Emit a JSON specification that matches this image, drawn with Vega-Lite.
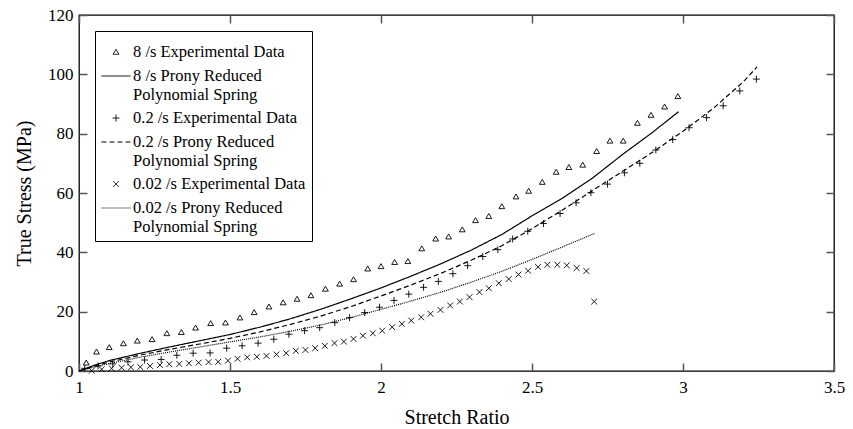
{
  "$schema": "https://vega.github.io/schema/vega-lite/v6.json",
  "width": 755,
  "height": 356,
  "autosize": "none",
  "padding": {"left": 79, "top": 15, "right": 19, "bottom": 58},
  "config": {
    "view": {"stroke": "black", "strokeWidth": 1.3},
    "font": "Liberation Serif",
    "legend": {"labelFont": "Liberation Serif", "labelFontSize": 16.5, "labelColor": "black"},
    "axis": {
      "domain": false, "ticks": true, "tickColor": "#555", "tickWidth": 1.5, "tickSize": 8, "offset": -8,
      "grid": false, "labelFont": "Liberation Serif", "labelFontSize": 17, "labelColor": "black",
      "titleFont": "Liberation Serif", "titleFontSize": 20, "titleFontWeight": "normal", "titleColor": "black"
    }
  },
  "datasets": {
    "exp": [
      {"s": "8 /s Experimental Data", "x": 1.024, "y": 2.8},
      {"s": "8 /s Experimental Data", "x": 1.058, "y": 6.5},
      {"s": "8 /s Experimental Data", "x": 1.10, "y": 8.0},
      {"s": "8 /s Experimental Data", "x": 1.147, "y": 9.3},
      {"s": "8 /s Experimental Data", "x": 1.193, "y": 10.2},
      {"s": "8 /s Experimental Data", "x": 1.242, "y": 10.7},
      {"s": "8 /s Experimental Data", "x": 1.291, "y": 12.7},
      {"s": "8 /s Experimental Data", "x": 1.339, "y": 13.1},
      {"s": "8 /s Experimental Data", "x": 1.386, "y": 14.6},
      {"s": "8 /s Experimental Data", "x": 1.436, "y": 16.1},
      {"s": "8 /s Experimental Data", "x": 1.485, "y": 16.3},
      {"s": "8 /s Experimental Data", "x": 1.533, "y": 18.0},
      {"s": "8 /s Experimental Data", "x": 1.58, "y": 19.8},
      {"s": "8 /s Experimental Data", "x": 1.629, "y": 21.7},
      {"s": "8 /s Experimental Data", "x": 1.676, "y": 23.1},
      {"s": "8 /s Experimental Data", "x": 1.722, "y": 24.3},
      {"s": "8 /s Experimental Data", "x": 1.768, "y": 25.5},
      {"s": "8 /s Experimental Data", "x": 1.816, "y": 27.7},
      {"s": "8 /s Experimental Data", "x": 1.863, "y": 29.4},
      {"s": "8 /s Experimental Data", "x": 1.909, "y": 30.9},
      {"s": "8 /s Experimental Data", "x": 1.956, "y": 34.5},
      {"s": "8 /s Experimental Data", "x": 2.0, "y": 35.3},
      {"s": "8 /s Experimental Data", "x": 2.045, "y": 36.7},
      {"s": "8 /s Experimental Data", "x": 2.089, "y": 37.0},
      {"s": "8 /s Experimental Data", "x": 2.135, "y": 41.3},
      {"s": "8 /s Experimental Data", "x": 2.181, "y": 44.6},
      {"s": "8 /s Experimental Data", "x": 2.224, "y": 45.3},
      {"s": "8 /s Experimental Data", "x": 2.269, "y": 47.7},
      {"s": "8 /s Experimental Data", "x": 2.313, "y": 50.8},
      {"s": "8 /s Experimental Data", "x": 2.357, "y": 52.2},
      {"s": "8 /s Experimental Data", "x": 2.40, "y": 55.5},
      {"s": "8 /s Experimental Data", "x": 2.447, "y": 58.8},
      {"s": "8 /s Experimental Data", "x": 2.489, "y": 60.7},
      {"s": "8 /s Experimental Data", "x": 2.534, "y": 63.7},
      {"s": "8 /s Experimental Data", "x": 2.58, "y": 67.1},
      {"s": "8 /s Experimental Data", "x": 2.622, "y": 68.7},
      {"s": "8 /s Experimental Data", "x": 2.668, "y": 69.5},
      {"s": "8 /s Experimental Data", "x": 2.714, "y": 74.1},
      {"s": "8 /s Experimental Data", "x": 2.758, "y": 77.6},
      {"s": "8 /s Experimental Data", "x": 2.802, "y": 77.6},
      {"s": "8 /s Experimental Data", "x": 2.849, "y": 83.6},
      {"s": "8 /s Experimental Data", "x": 2.894, "y": 86.3},
      {"s": "8 /s Experimental Data", "x": 2.939, "y": 89.1},
      {"s": "8 /s Experimental Data", "x": 2.983, "y": 92.6},
      {"s": "0.2 /s Experimental Data", "x": 1.019, "y": 0.9},
      {"s": "0.2 /s Experimental Data", "x": 1.063, "y": 1.7},
      {"s": "0.2 /s Experimental Data", "x": 1.112, "y": 2.4},
      {"s": "0.2 /s Experimental Data", "x": 1.162, "y": 3.1},
      {"s": "0.2 /s Experimental Data", "x": 1.217, "y": 3.7},
      {"s": "0.2 /s Experimental Data", "x": 1.272, "y": 3.9},
      {"s": "0.2 /s Experimental Data", "x": 1.324, "y": 5.3},
      {"s": "0.2 /s Experimental Data", "x": 1.378, "y": 6.0},
      {"s": "0.2 /s Experimental Data", "x": 1.434, "y": 6.1},
      {"s": "0.2 /s Experimental Data", "x": 1.489, "y": 7.7},
      {"s": "0.2 /s Experimental Data", "x": 1.54, "y": 8.5},
      {"s": "0.2 /s Experimental Data", "x": 1.593, "y": 9.4},
      {"s": "0.2 /s Experimental Data", "x": 1.645, "y": 10.7},
      {"s": "0.2 /s Experimental Data", "x": 1.695, "y": 12.4},
      {"s": "0.2 /s Experimental Data", "x": 1.747, "y": 13.6},
      {"s": "0.2 /s Experimental Data", "x": 1.797, "y": 14.6},
      {"s": "0.2 /s Experimental Data", "x": 1.847, "y": 16.3},
      {"s": "0.2 /s Experimental Data", "x": 1.896, "y": 18.0},
      {"s": "0.2 /s Experimental Data", "x": 1.946, "y": 19.7},
      {"s": "0.2 /s Experimental Data", "x": 1.995, "y": 21.5},
      {"s": "0.2 /s Experimental Data", "x": 2.043, "y": 23.8},
      {"s": "0.2 /s Experimental Data", "x": 2.092, "y": 25.9},
      {"s": "0.2 /s Experimental Data", "x": 2.141, "y": 28.2},
      {"s": "0.2 /s Experimental Data", "x": 2.19, "y": 30.2},
      {"s": "0.2 /s Experimental Data", "x": 2.238, "y": 32.8},
      {"s": "0.2 /s Experimental Data", "x": 2.287, "y": 35.5},
      {"s": "0.2 /s Experimental Data", "x": 2.337, "y": 38.6},
      {"s": "0.2 /s Experimental Data", "x": 2.387, "y": 40.9},
      {"s": "0.2 /s Experimental Data", "x": 2.436, "y": 44.5},
      {"s": "0.2 /s Experimental Data", "x": 2.486, "y": 47.1},
      {"s": "0.2 /s Experimental Data", "x": 2.538, "y": 49.7},
      {"s": "0.2 /s Experimental Data", "x": 2.593, "y": 53.1},
      {"s": "0.2 /s Experimental Data", "x": 2.646, "y": 56.7},
      {"s": "0.2 /s Experimental Data", "x": 2.695, "y": 60.1},
      {"s": "0.2 /s Experimental Data", "x": 2.75, "y": 63.0},
      {"s": "0.2 /s Experimental Data", "x": 2.806, "y": 66.8},
      {"s": "0.2 /s Experimental Data", "x": 2.857, "y": 70.0},
      {"s": "0.2 /s Experimental Data", "x": 2.91, "y": 74.5},
      {"s": "0.2 /s Experimental Data", "x": 2.966, "y": 78.0},
      {"s": "0.2 /s Experimental Data", "x": 3.02, "y": 82.0},
      {"s": "0.2 /s Experimental Data", "x": 3.078, "y": 85.4},
      {"s": "0.2 /s Experimental Data", "x": 3.133, "y": 89.4},
      {"s": "0.2 /s Experimental Data", "x": 3.188, "y": 94.4},
      {"s": "0.2 /s Experimental Data", "x": 3.243, "y": 98.4},
      {"s": "0.02 /s Experimental Data", "x": 1.042, "y": 0.1},
      {"s": "0.02 /s Experimental Data", "x": 1.075, "y": 0.6},
      {"s": "0.02 /s Experimental Data", "x": 1.108, "y": 0.9},
      {"s": "0.02 /s Experimental Data", "x": 1.141, "y": 1.1},
      {"s": "0.02 /s Experimental Data", "x": 1.172, "y": 1.25},
      {"s": "0.02 /s Experimental Data", "x": 1.203, "y": 1.35},
      {"s": "0.02 /s Experimental Data", "x": 1.235, "y": 1.7},
      {"s": "0.02 /s Experimental Data", "x": 1.268, "y": 2.0},
      {"s": "0.02 /s Experimental Data", "x": 1.299, "y": 2.3},
      {"s": "0.02 /s Experimental Data", "x": 1.332, "y": 2.4},
      {"s": "0.02 /s Experimental Data", "x": 1.364, "y": 2.6},
      {"s": "0.02 /s Experimental Data", "x": 1.396, "y": 2.8},
      {"s": "0.02 /s Experimental Data", "x": 1.429, "y": 3.0},
      {"s": "0.02 /s Experimental Data", "x": 1.461, "y": 3.1},
      {"s": "0.02 /s Experimental Data", "x": 1.493, "y": 3.5},
      {"s": "0.02 /s Experimental Data", "x": 1.525, "y": 4.1},
      {"s": "0.02 /s Experimental Data", "x": 1.557, "y": 4.6},
      {"s": "0.02 /s Experimental Data", "x": 1.589, "y": 4.8},
      {"s": "0.02 /s Experimental Data", "x": 1.621, "y": 5.1},
      {"s": "0.02 /s Experimental Data", "x": 1.654, "y": 5.6},
      {"s": "0.02 /s Experimental Data", "x": 1.686, "y": 6.0},
      {"s": "0.02 /s Experimental Data", "x": 1.718, "y": 6.8},
      {"s": "0.02 /s Experimental Data", "x": 1.75, "y": 7.1},
      {"s": "0.02 /s Experimental Data", "x": 1.782, "y": 7.7},
      {"s": "0.02 /s Experimental Data", "x": 1.814, "y": 8.5},
      {"s": "0.02 /s Experimental Data", "x": 1.846, "y": 9.4},
      {"s": "0.02 /s Experimental Data", "x": 1.877, "y": 9.9},
      {"s": "0.02 /s Experimental Data", "x": 1.909, "y": 10.8},
      {"s": "0.02 /s Experimental Data", "x": 1.94, "y": 11.9},
      {"s": "0.02 /s Experimental Data", "x": 1.973, "y": 12.7},
      {"s": "0.02 /s Experimental Data", "x": 2.004, "y": 13.6},
      {"s": "0.02 /s Experimental Data", "x": 2.037, "y": 14.8},
      {"s": "0.02 /s Experimental Data", "x": 2.069, "y": 15.9},
      {"s": "0.02 /s Experimental Data", "x": 2.10, "y": 17.0},
      {"s": "0.02 /s Experimental Data", "x": 2.133, "y": 18.1},
      {"s": "0.02 /s Experimental Data", "x": 2.164, "y": 19.3},
      {"s": "0.02 /s Experimental Data", "x": 2.197, "y": 20.6},
      {"s": "0.02 /s Experimental Data", "x": 2.229, "y": 22.1},
      {"s": "0.02 /s Experimental Data", "x": 2.261, "y": 23.4},
      {"s": "0.02 /s Experimental Data", "x": 2.293, "y": 24.9},
      {"s": "0.02 /s Experimental Data", "x": 2.326, "y": 26.6},
      {"s": "0.02 /s Experimental Data", "x": 2.357, "y": 27.9},
      {"s": "0.02 /s Experimental Data", "x": 2.39, "y": 29.6},
      {"s": "0.02 /s Experimental Data", "x": 2.423, "y": 31.0},
      {"s": "0.02 /s Experimental Data", "x": 2.455, "y": 32.5},
      {"s": "0.02 /s Experimental Data", "x": 2.487, "y": 33.8},
      {"s": "0.02 /s Experimental Data", "x": 2.52, "y": 35.1},
      {"s": "0.02 /s Experimental Data", "x": 2.551, "y": 35.8},
      {"s": "0.02 /s Experimental Data", "x": 2.584, "y": 35.8},
      {"s": "0.02 /s Experimental Data", "x": 2.615, "y": 35.6},
      {"s": "0.02 /s Experimental Data", "x": 2.648, "y": 34.7},
      {"s": "0.02 /s Experimental Data", "x": 2.68, "y": 33.7},
      {"s": "0.02 /s Experimental Data", "x": 2.706, "y": 23.4}
    ],
    "models": [
      {"s": "8 /s Prony Reduced|Polynomial Spring", "x": 1.0, "y": 0},
      {"s": "8 /s Prony Reduced|Polynomial Spring", "x": 1.05, "y": 1.9},
      {"s": "8 /s Prony Reduced|Polynomial Spring", "x": 1.1, "y": 3.5},
      {"s": "8 /s Prony Reduced|Polynomial Spring", "x": 1.2, "y": 5.9},
      {"s": "8 /s Prony Reduced|Polynomial Spring", "x": 1.3, "y": 8.1},
      {"s": "8 /s Prony Reduced|Polynomial Spring", "x": 1.4, "y": 10.2},
      {"s": "8 /s Prony Reduced|Polynomial Spring", "x": 1.5, "y": 12.3},
      {"s": "8 /s Prony Reduced|Polynomial Spring", "x": 1.6, "y": 14.8},
      {"s": "8 /s Prony Reduced|Polynomial Spring", "x": 1.7, "y": 17.6},
      {"s": "8 /s Prony Reduced|Polynomial Spring", "x": 1.8, "y": 20.8},
      {"s": "8 /s Prony Reduced|Polynomial Spring", "x": 1.9, "y": 24.3},
      {"s": "8 /s Prony Reduced|Polynomial Spring", "x": 2.0, "y": 28.0},
      {"s": "8 /s Prony Reduced|Polynomial Spring", "x": 2.1, "y": 32.0},
      {"s": "8 /s Prony Reduced|Polynomial Spring", "x": 2.2, "y": 36.2},
      {"s": "8 /s Prony Reduced|Polynomial Spring", "x": 2.3, "y": 40.8},
      {"s": "8 /s Prony Reduced|Polynomial Spring", "x": 2.4, "y": 46.0},
      {"s": "8 /s Prony Reduced|Polynomial Spring", "x": 2.5, "y": 52.3},
      {"s": "8 /s Prony Reduced|Polynomial Spring", "x": 2.6, "y": 58.2},
      {"s": "8 /s Prony Reduced|Polynomial Spring", "x": 2.7, "y": 65.0},
      {"s": "8 /s Prony Reduced|Polynomial Spring", "x": 2.8, "y": 73.0},
      {"s": "8 /s Prony Reduced|Polynomial Spring", "x": 2.9, "y": 80.5},
      {"s": "8 /s Prony Reduced|Polynomial Spring", "x": 2.985, "y": 87.4},
      {"s": "0.2 /s Prony Reduced|Polynomial Spring", "x": 1.0, "y": 0},
      {"s": "0.2 /s Prony Reduced|Polynomial Spring", "x": 1.05, "y": 1.6},
      {"s": "0.2 /s Prony Reduced|Polynomial Spring", "x": 1.1, "y": 3.0},
      {"s": "0.2 /s Prony Reduced|Polynomial Spring", "x": 1.2, "y": 5.3},
      {"s": "0.2 /s Prony Reduced|Polynomial Spring", "x": 1.3, "y": 7.3},
      {"s": "0.2 /s Prony Reduced|Polynomial Spring", "x": 1.4, "y": 9.1},
      {"s": "0.2 /s Prony Reduced|Polynomial Spring", "x": 1.5, "y": 11.0},
      {"s": "0.2 /s Prony Reduced|Polynomial Spring", "x": 1.6, "y": 13.2},
      {"s": "0.2 /s Prony Reduced|Polynomial Spring", "x": 1.7, "y": 15.7},
      {"s": "0.2 /s Prony Reduced|Polynomial Spring", "x": 1.8, "y": 18.5},
      {"s": "0.2 /s Prony Reduced|Polynomial Spring", "x": 1.9, "y": 21.7},
      {"s": "0.2 /s Prony Reduced|Polynomial Spring", "x": 2.0, "y": 25.3},
      {"s": "0.2 /s Prony Reduced|Polynomial Spring", "x": 2.1, "y": 29.0},
      {"s": "0.2 /s Prony Reduced|Polynomial Spring", "x": 2.2, "y": 33.0},
      {"s": "0.2 /s Prony Reduced|Polynomial Spring", "x": 2.3, "y": 37.4},
      {"s": "0.2 /s Prony Reduced|Polynomial Spring", "x": 2.4, "y": 42.2},
      {"s": "0.2 /s Prony Reduced|Polynomial Spring", "x": 2.5, "y": 48.0},
      {"s": "0.2 /s Prony Reduced|Polynomial Spring", "x": 2.6, "y": 54.2},
      {"s": "0.2 /s Prony Reduced|Polynomial Spring", "x": 2.7, "y": 60.8},
      {"s": "0.2 /s Prony Reduced|Polynomial Spring", "x": 2.8, "y": 67.3},
      {"s": "0.2 /s Prony Reduced|Polynomial Spring", "x": 2.9, "y": 73.8},
      {"s": "0.2 /s Prony Reduced|Polynomial Spring", "x": 3.0, "y": 80.8},
      {"s": "0.2 /s Prony Reduced|Polynomial Spring", "x": 3.1, "y": 88.5},
      {"s": "0.2 /s Prony Reduced|Polynomial Spring", "x": 3.2, "y": 97.5},
      {"s": "0.2 /s Prony Reduced|Polynomial Spring", "x": 3.245, "y": 102.5},
      {"s": "0.02 /s Prony Reduced|Polynomial Spring", "x": 1.0, "y": 0},
      {"s": "0.02 /s Prony Reduced|Polynomial Spring", "x": 1.05, "y": 1.3},
      {"s": "0.02 /s Prony Reduced|Polynomial Spring", "x": 1.1, "y": 2.5},
      {"s": "0.02 /s Prony Reduced|Polynomial Spring", "x": 1.2, "y": 4.6},
      {"s": "0.02 /s Prony Reduced|Polynomial Spring", "x": 1.3, "y": 6.4},
      {"s": "0.02 /s Prony Reduced|Polynomial Spring", "x": 1.4, "y": 8.1},
      {"s": "0.02 /s Prony Reduced|Polynomial Spring", "x": 1.5, "y": 9.8},
      {"s": "0.02 /s Prony Reduced|Polynomial Spring", "x": 1.6, "y": 11.5},
      {"s": "0.02 /s Prony Reduced|Polynomial Spring", "x": 1.7, "y": 13.4},
      {"s": "0.02 /s Prony Reduced|Polynomial Spring", "x": 1.8, "y": 15.5},
      {"s": "0.02 /s Prony Reduced|Polynomial Spring", "x": 1.9, "y": 18.0},
      {"s": "0.02 /s Prony Reduced|Polynomial Spring", "x": 2.0, "y": 20.8},
      {"s": "0.02 /s Prony Reduced|Polynomial Spring", "x": 2.1, "y": 23.6},
      {"s": "0.02 /s Prony Reduced|Polynomial Spring", "x": 2.2, "y": 26.6},
      {"s": "0.02 /s Prony Reduced|Polynomial Spring", "x": 2.3, "y": 30.0},
      {"s": "0.02 /s Prony Reduced|Polynomial Spring", "x": 2.4, "y": 33.6},
      {"s": "0.02 /s Prony Reduced|Polynomial Spring", "x": 2.5, "y": 37.6},
      {"s": "0.02 /s Prony Reduced|Polynomial Spring", "x": 2.6, "y": 41.8},
      {"s": "0.02 /s Prony Reduced|Polynomial Spring", "x": 2.708, "y": 46.4}
    ]
  },
  "layer": [
    {
      "data": {"name": "models"},
      "mark": {"type": "line", "color": "black", "strokeWidth": 1.2},
      "encoding": {
        "x": {"field": "x", "type": "quantitative", "scale": {"domain": [1, 3.5], "nice": false},
          "axis": {"title": "Stretch Ratio", "values": [1, 1.5, 2, 2.5, 3, 3.5], "format": "~g", "labelPadding": 8, "titleY": 54, "titleBaseline": "middle", "labelFlush": false}},
        "y": {"field": "y", "type": "quantitative", "scale": {"domain": [0, 120], "nice": false},
          "axis": {"title": "True Stress (MPa)", "values": [0, 20, 40, 60, 80, 100, 120], "format": "d", "labelPadding": 6, "titleX": -63, "titleBaseline": "middle", "labelFlush": false}},
        "strokeDash": {"field": "s", "type": "nominal",
          "scale": {"domain": ["8 /s Experimental Data", "8 /s Prony Reduced|Polynomial Spring", "0.2 /s Experimental Data", "0.2 /s Prony Reduced|Polynomial Spring", "0.02 /s Experimental Data", "0.02 /s Prony Reduced|Polynomial Spring"],
            "range": [[1, 0], [1, 0], [1, 0], [5, 3], [1, 0], [1, 1]]},
          "legend": {"title": null, "orient": "none", "legendX": 16, "legendY": 16, "strokeColor": "black", "fillColor": "white", "padding": 6,
            "labelFont": "Liberation Serif", "labelFontSize": 16.5, "labelColor": "black", "symbolSize": 841, "symbolStrokeColor": "black", "symbolStrokeWidth": 1,
            "labelExpr": "split(datum.label, '|')", "rowPadding": -3, "labelOffset": 2, "labelLimit": 400}}
      }
    },
    {
      "data": {"name": "exp"},
      "mark": {"type": "point", "filled": false, "color": "black", "strokeWidth": 0.9, "size": 841, "opacity": 1},
      "encoding": {
        "x": {"field": "x", "type": "quantitative", "axis": null},
        "y": {"field": "y", "type": "quantitative", "axis": null},
        "shape": {"field": "s", "type": "nominal",
          "scale": {"domain": ["8 /s Experimental Data", "8 /s Prony Reduced|Polynomial Spring", "0.2 /s Experimental Data", "0.2 /s Prony Reduced|Polynomial Spring", "0.02 /s Experimental Data", "0.02 /s Prony Reduced|Polynomial Spring"],
            "range": ["M0,-0.18L0.2,0.16L-0.2,0.16Z", "stroke", "M-0.24,0L0.24,0M0,-0.24L0,0.24", "stroke", "M-0.2,-0.2L0.2,0.2M-0.2,0.2L0.2,-0.2", "stroke"]},
          "legend": {"title": null, "orient": "none", "legendX": 16, "legendY": 16, "strokeColor": "black", "fillColor": "white", "padding": 6,
            "labelFont": "Liberation Serif", "labelFontSize": 16.5, "labelColor": "black", "symbolSize": 841, "symbolStrokeColor": "black", "symbolStrokeWidth": 1,
            "labelExpr": "split(datum.label, '|')", "rowPadding": -3, "labelOffset": 2, "labelLimit": 400}}
      }
    },
    {
      "data": {"name": "exp"},
      "mark": {"type": "point", "opacity": 0},
      "encoding": {
        "x": {"field": "x", "type": "quantitative", "axis": {"orient": "top", "title": null, "labels": false, "values": [1, 1.5, 2, 2.5, 3, 3.5]}},
        "y": {"field": "y", "type": "quantitative", "axis": {"orient": "right", "title": null, "labels": false, "values": [0, 20, 40, 60, 80, 100, 120]}}
      }
    }
  ],
  "resolve": {"axis": {"x": "independent", "y": "independent"}}
}
